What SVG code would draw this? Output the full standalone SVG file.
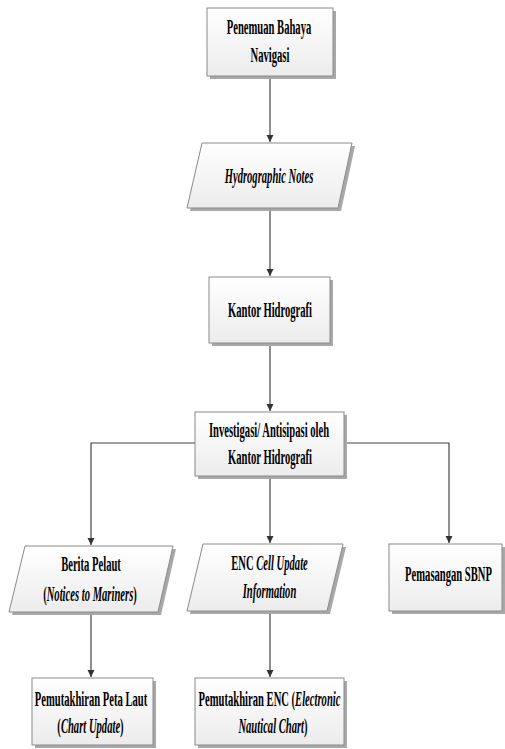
<svg xmlns="http://www.w3.org/2000/svg" width="505" height="749" viewBox="0 0 505 749">
<defs>
<linearGradient id="g" x1="0" y1="0" x2="0" y2="1">
<stop offset="0" stop-color="#ffffff"/>
<stop offset="1" stop-color="#ececec"/>
</linearGradient>
<marker id="ah" viewBox="0 0 10 10" refX="10" refY="5" markerWidth="7" markerHeight="8" markerUnits="userSpaceOnUse" orient="auto">
<path d="M0,0 L10,5 L0,10 z" fill="#333"/>
</marker>
</defs>
<style>
.sh{fill:#a8a8a8;}
.bx{fill:url(#g);stroke:#8a8a8a;stroke-width:1;}
.t{font-family:"Liberation Serif","Times New Roman",serif;font-weight:bold;font-size:21px;fill:#000;text-anchor:middle;}
.i{font-style:italic;}
.c{fill:none;stroke:#444;stroke-width:1.2;}
</style>
<g id="connectors">
<path class="c" d="M270,76 V142" marker-end="url(#ah)"/>
<path class="c" d="M270,208 V276" marker-end="url(#ah)"/>
<path class="c" d="M270,343 V411" marker-end="url(#ah)"/>
<path class="c" d="M270,476 V543" marker-end="url(#ah)"/>
<path class="c" d="M195,443 H91 V545" marker-end="url(#ah)"/>
<path class="c" d="M344,443 H449 V543" marker-end="url(#ah)"/>
<path class="c" d="M91,612 V677" marker-end="url(#ah)"/>
<path class="c" d="M270,611 V677" marker-end="url(#ah)"/>
</g>
<g id="n1">
<rect class="sh" x="210" y="11" width="126" height="68"/>
<rect class="bx" x="207" y="8" width="126" height="68"/>
<text class="t" transform="translate(269,34) scale(0.505,1)">Penemuan Bahaya</text>
<text class="t" transform="translate(270,62) scale(0.505,1)">Navigasi</text>
</g>
<g id="n2">
<polygon class="sh" points="205,146 355,146 341,211 190,211"/>
<polygon class="bx" points="202,143 352,143 338,208 187,208"/>
<text class="t i" transform="translate(269,183) scale(0.505,1)">Hydrographic Notes</text>
</g>
<g id="n3">
<rect class="sh" x="212" y="280" width="121" height="66"/>
<rect class="bx" x="209" y="277" width="121" height="66"/>
<text class="t" transform="translate(270,317) scale(0.505,1)">Kantor Hidrografi</text>
</g>
<g id="n4">
<rect class="sh" x="198" y="415" width="149" height="64"/>
<rect class="bx" x="195" y="412" width="149" height="64"/>
<text class="t" transform="translate(269,437) scale(0.505,1)">Investigasi/ Antisipasi oleh</text>
<text class="t" transform="translate(270,464) scale(0.505,1)">Kantor Hidrografi</text>
</g>
<g id="n5">
<polygon class="sh" points="28,549 176,549 161,615 12,615"/>
<polygon class="bx" points="25,546 173,546 158,612 9,612"/>
<text class="t" transform="translate(91,571) scale(0.505,1)">Berita Pelaut</text>
<text class="t" transform="translate(90,601) scale(0.505,1)">(<tspan class="i">Notices to Mariners</tspan>)</text>
</g>
<g id="n6">
<polygon class="sh" points="206,547 346,547 330,614 190,614"/>
<polygon class="bx" points="203,544 343,544 327,611 187,611"/>
<text class="t" transform="translate(269.5,570) scale(0.505,1)">ENC <tspan class="i">Cell Update</tspan></text>
<text class="t i" transform="translate(269.5,598) scale(0.505,1)">Information</text>
</g>
<g id="n7">
<rect class="sh" x="392" y="547" width="113" height="67"/>
<rect class="bx" x="389" y="544" width="113" height="67"/>
<text class="t" transform="translate(448.5,581) scale(0.505,1)">Pemasangan SBNP</text>
</g>
<g id="n8">
<rect class="sh" x="35" y="681" width="121" height="67"/>
<rect class="bx" x="32" y="678" width="121" height="67"/>
<text class="t" transform="translate(91,706) scale(0.505,1)">Pemutakhiran Peta Laut</text>
<text class="t" transform="translate(90.5,733) scale(0.505,1)">(<tspan class="i">Chart Update</tspan>)</text>
</g>
<g id="n9">
<rect class="sh" x="198" y="681" width="149" height="67"/>
<rect class="bx" x="195" y="678" width="149" height="67"/>
<text class="t" transform="translate(269.5,706) scale(0.505,1)">Pemutakhiran ENC (<tspan class="i">Electronic</tspan></text>
<text class="t" transform="translate(273,733) scale(0.505,1)"><tspan class="i">Nautical Chart</tspan>)</text>
</g>
</svg>
